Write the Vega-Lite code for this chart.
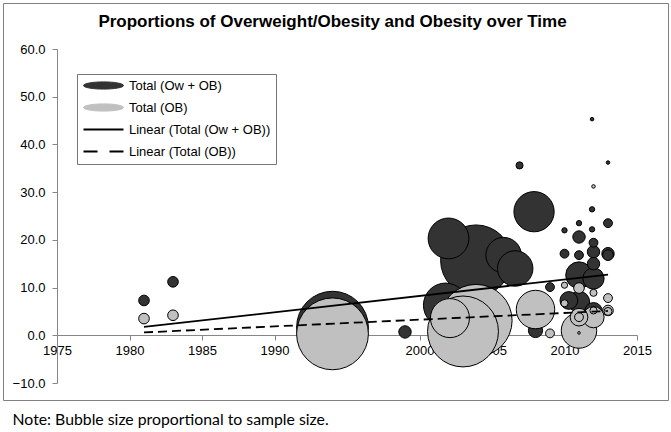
{
  "$schema": "https://vega.github.io/schema/vega-lite/v6.json",
  "width": 665,
  "height": 397,
  "autosize": {"type": "none"},
  "padding": {"left": 3, "top": 3, "right": 3, "bottom": 32},
  "background": "white",
  "config": {
    "view": {"stroke": "#808080", "strokeWidth": 1},
    "font": "Liberation Sans"
  },
  "title": {
    "text": "Proportions of Overweight/Obesity and Obesity over Time",
    "font": "Liberation Sans",
    "fontSize": 17,
    "fontWeight": "bold",
    "color": "black",
    "anchor": "middle",
    "frame": "group",
    "dx": -3,
    "offset": -28
  },
  "datasets": {
    "bubbles": [
      {"series": "Total (Ow + OB)", "year": 1981, "pct": 7.3, "n": 643},
      {"series": "Total (Ow + OB)", "year": 1983, "pct": 11.2, "n": 643},
      {"series": "Total (Ow + OB)", "year": 1994, "pct": 1.7, "n": 29280},
      {"series": "Total (Ow + OB)", "year": 1999, "pct": 0.7, "n": 875},
      {"series": "Total (Ow + OB)", "year": 2002, "pct": 20.3, "n": 9440},
      {"series": "Total (Ow + OB)", "year": 2003.9, "pct": 15.7, "n": 28560},
      {"series": "Total (Ow + OB)", "year": 2005.8, "pct": 16.8, "n": 7140},
      {"series": "Total (Ow + OB)", "year": 2006.6, "pct": 14.0, "n": 7140},
      {"series": "Total (Ow + OB)", "year": 2001.8, "pct": 6.3, "n": 11160},
      {"series": "Total (Ow + OB)", "year": 2006.9, "pct": 35.6, "n": 286},
      {"series": "Total (Ow + OB)", "year": 2007.9, "pct": 25.9, "n": 9200},
      {"series": "Total (Ow + OB)", "year": 2008, "pct": 1.0, "n": 1140},
      {"series": "Total (Ow + OB)", "year": 2009, "pct": 10.1, "n": 446},
      {"series": "Total (Ow + OB)", "year": 2011.9, "pct": 45.3, "n": 71},
      {"series": "Total (Ow + OB)", "year": 2013, "pct": 36.2, "n": 71},
      {"series": "Total (Ow + OB)", "year": 2011.9, "pct": 26.4, "n": 161},
      {"series": "Total (Ow + OB)", "year": 2013, "pct": 23.5, "n": 446},
      {"series": "Total (Ow + OB)", "year": 2011, "pct": 23.5, "n": 161},
      {"series": "Total (Ow + OB)", "year": 2011.9, "pct": 22.2, "n": 161},
      {"series": "Total (Ow + OB)", "year": 2010, "pct": 22.0, "n": 161},
      {"series": "Total (Ow + OB)", "year": 2011, "pct": 20.6, "n": 875},
      {"series": "Total (Ow + OB)", "year": 2012, "pct": 19.4, "n": 446},
      {"series": "Total (Ow + OB)", "year": 2012, "pct": 17.5, "n": 875},
      {"series": "Total (Ow + OB)", "year": 2013, "pct": 17.1, "n": 875},
      {"series": "Total (Ow + OB)", "year": 2013, "pct": 16.8, "n": 643},
      {"series": "Total (Ow + OB)", "year": 2010, "pct": 17.1, "n": 446},
      {"series": "Total (Ow + OB)", "year": 2011, "pct": 16.8, "n": 446},
      {"series": "Total (Ow + OB)", "year": 2012, "pct": 15.0, "n": 875},
      {"series": "Total (Ow + OB)", "year": 2011, "pct": 12.6, "n": 4016},
      {"series": "Total (Ow + OB)", "year": 2012, "pct": 11.9, "n": 2570},
      {"series": "Total (Ow + OB)", "year": 2010.3, "pct": 7.3, "n": 1785},
      {"series": "Total (Ow + OB)", "year": 2011, "pct": 7.0, "n": 2570},
      {"series": "Total (Ow + OB)", "year": 2012, "pct": 5.0, "n": 1785},
      {"series": "Total (OB)", "year": 1981, "pct": 3.5, "n": 643},
      {"series": "Total (OB)", "year": 1983, "pct": 4.2, "n": 643},
      {"series": "Total (OB)", "year": 1994, "pct": 0.3, "n": 29280},
      {"series": "Total (OB)", "year": 2003, "pct": 0.8, "n": 28560},
      {"series": "Total (OB)", "year": 2003.9, "pct": 3.1, "n": 29570},
      {"series": "Total (OB)", "year": 2002.1, "pct": 3.6, "n": 8640},
      {"series": "Total (OB)", "year": 2008, "pct": 5.4, "n": 8400},
      {"series": "Total (OB)", "year": 2009, "pct": 0.4, "n": 446},
      {"series": "Total (OB)", "year": 2012, "pct": 31.2, "n": 71},
      {"series": "Total (OB)", "year": 2011, "pct": 9.9, "n": 643},
      {"series": "Total (OB)", "year": 2012, "pct": 8.9, "n": 286},
      {"series": "Total (OB)", "year": 2010, "pct": 10.5, "n": 219},
      {"series": "Total (OB)", "year": 2013, "pct": 7.8, "n": 446},
      {"series": "Total (OB)", "year": 2013, "pct": 5.2, "n": 643},
      {"series": "Total (OB)", "year": 2013, "pct": 5.0, "n": 361},
      {"series": "Total (OB)", "year": 2011, "pct": 3.8, "n": 1785},
      {"series": "Total (OB)", "year": 2011, "pct": 3.8, "n": 446},
      {"series": "Total (OB)", "year": 2011, "pct": 1.0, "n": 7140},
      {"series": "Total (OB)", "year": 2012, "pct": 3.8, "n": 2570},
      {"series": "Total (OB)", "year": 2010, "pct": 6.7, "n": 286},
      {"series": "Total (OB)", "year": 2012, "pct": 5.2, "n": 286},
      {"series": "Total (OB)", "year": 2011, "pct": 0.5, "n": 40}
    ],
    "trends": [
      {"series": "Linear (Total (Ow + OB))", "year": 1981, "pct": 1.75},
      {"series": "Linear (Total (Ow + OB))", "year": 2013, "pct": 12.7},
      {"series": "Linear (Total (OB))", "year": 1981, "pct": 0.6},
      {"series": "Linear (Total (OB))", "year": 2013, "pct": 5.1}
    ]
  },
  "encoding": {
    "x": {
      "field": "year",
      "type": "quantitative",
      "scale": {"domain": [1975, 2015], "range": [54, 634], "nice": false, "zero": false},
      "axis": {
        "orient": "bottom",
        "offset": -65,
        "values": [1975, 1980, 1985, 1990, 1995, 2000, 2005, 2010, 2015],
        "format": "d",
        "grid": false,
        "domainColor": "#868686",
        "tickColor": "#868686",
        "tickSize": 5,
        "labelFont": "Liberation Sans",
        "labelFontSize": 13,
        "labelColor": "black",
        "labelPadding": 4,
        "labelFlush": false,
        "labelOverlap": false,
        "labelBound": false,
        "title": "Note: Bubble size proportional to sample size.",
        "titleFont": "Lato",
        "titleFontSize": 15.8,
        "titleFontWeight": "normal",
        "titleColor": "black",
        "titleAlign": "left",
        "titleAnchor": "start",
        "titleBaseline": "middle",
        "titleX": 9,
        "titleY": 84
      }
    },
    "y": {
      "field": "pct",
      "type": "quantitative",
      "scale": {"domain": [-10, 60], "range": [380, 46], "nice": false, "zero": false},
      "axis": {
        "orient": "left",
        "offset": -54,
        "values": [-10, 0, 10, 20, 30, 40, 50, 60],
        "format": ".1f",
        "grid": false,
        "domainColor": "#868686",
        "tickColor": "#868686",
        "tickSize": 5,
        "labelFont": "Liberation Sans",
        "labelFontSize": 13,
        "labelColor": "black",
        "labelPadding": 7,
        "labelOverlap": false,
        "labelBound": false,
        "title": null
      }
    },
    "color": {
      "field": "series",
      "type": "nominal",
      "scale": {
        "domain": ["Total (Ow + OB)", "Total (OB)", "Linear (Total (Ow + OB))", "Linear (Total (OB))"],
        "range": ["#333333", "#c0c0c0", "black", "black"]
      },
      "legend": {
        "orient": "none",
        "legendX": 74,
        "legendY": 71,
        "title": null,
        "padding": 5,
        "strokeColor": "#777777",
        "fillColor": "white",
        "labelFont": "Liberation Sans",
        "labelFontSize": 13,
        "labelColor": "black",
        "symbolSize": 100,
        "labelOffset": 34,
        "rowPadding": 8,
        "encode": {
          "symbols": {
            "update": {
              "shape": {"signal": "datum.value === 'Linear (Total (OB))' ? 'M-1,0L1.8,0M4.2,0L7,0' : (datum.value === 'Linear (Total (Ow + OB))' ? 'M-1,0L7,0' : 'M-1,0C-1,-0.398,0.791,-0.72,3,-0.72C5.209,-0.72,7,-0.398,7,0C7,0.398,5.209,0.72,3,0.72C0.791,0.72,-1,0.398,-1,0Z')"},
              "fill": {"signal": "datum.value === 'Total (Ow + OB)' ? '#333333' : (datum.value === 'Total (OB)' ? '#c0c0c0' : 'transparent')"},
              "stroke": {"value": "black"},
              "strokeWidth": {"signal": "datum.value === 'Total (Ow + OB)' || datum.value === 'Total (OB)' ? 1 : 1.8"},
              "opacity": {"value": 1}
            }
          }
        }
      }
    }
  },
  "layer": [
    {
      "data": {"name": "bubbles"},
      "transform": [{"filter": "datum.series === 'Total (Ow + OB)'"}],
      "mark": {"type": "point", "shape": "circle", "filled": true, "stroke": "black", "strokeWidth": 1, "opacity": 1},
      "encoding": {
        "size": {"field": "n", "type": "quantitative", "scale": {"domain": [0, 30000], "range": [0, 5281], "zero": true}, "legend": null},
        "order": {"field": "n", "type": "quantitative", "sort": "descending"}
      }
    },
    {
      "data": {"name": "bubbles"},
      "transform": [{"filter": "datum.series === 'Total (OB)'"}],
      "mark": {"type": "point", "shape": "circle", "filled": true, "stroke": "black", "strokeWidth": 1, "opacity": 1},
      "encoding": {
        "size": {"field": "n", "type": "quantitative", "legend": null},
        "order": {"field": "n", "type": "quantitative", "sort": "descending"}
      }
    },
    {
      "data": {"name": "trends"},
      "transform": [{"filter": "datum.series === 'Linear (Total (Ow + OB))'"}],
      "mark": {"type": "line", "strokeWidth": 1.8},
      "encoding": {}
    },
    {
      "data": {"name": "trends"},
      "transform": [{"filter": "datum.series === 'Linear (Total (OB))'"}],
      "mark": {"type": "line", "strokeWidth": 1.8, "strokeDash": [9, 5]},
      "encoding": {}
    }
  ]
}
